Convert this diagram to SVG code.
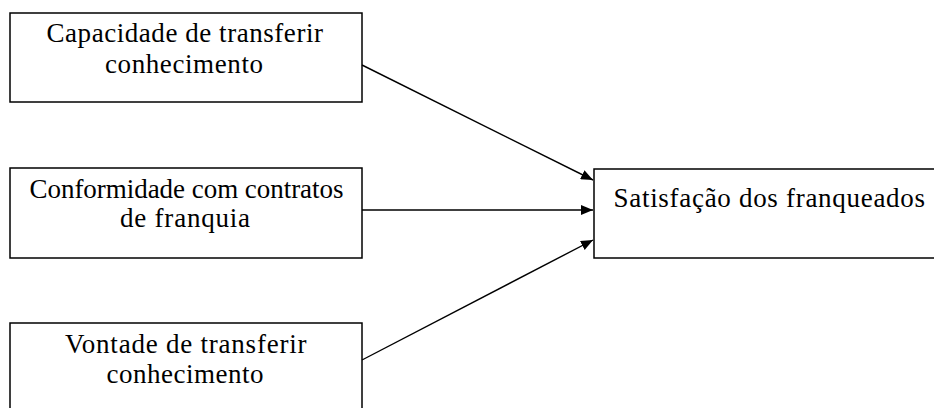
<svg xmlns="http://www.w3.org/2000/svg" width="934" height="408" viewBox="0 0 934 408">
<style>
.box{fill:#fff;stroke:#000;stroke-width:1.5}
.t{font-family:"Liberation Serif","Times New Roman",serif;font-size:27px;fill:#000}
.c{stroke:#000;stroke-width:1.4;fill:none;marker-end:url(#ah)}
</style>
<defs>
<marker id="ah" markerWidth="12" markerHeight="10" refX="12" refY="5" orient="auto" markerUnits="userSpaceOnUse">
<path d="M0,0 L12,5 L0,10 z" fill="#000"/>
</marker>
</defs>
<rect width="934" height="408" fill="#fff"/>
<g id="n1">
<rect class="box" x="10" y="13" width="352" height="89"/>
<text class="t" x="46.5" y="41.5" textLength="276.5" lengthAdjust="spacing">Capacidade de transferir</text>
<text class="t" x="105" y="73" textLength="158" lengthAdjust="spacing">conhecimento</text>
</g>
<g id="n2">
<rect class="box" x="10" y="168" width="352" height="90"/>
<text class="t" x="29.5" y="198" textLength="314" lengthAdjust="spacing">Conformidade com contratos</text>
<text class="t" x="120" y="227" textLength="130" lengthAdjust="spacing">de franquia</text>
</g>
<g id="n3">
<rect class="box" x="10" y="323" width="352" height="100"/>
<text class="t" x="65" y="353" textLength="241.5" lengthAdjust="spacing">Vontade de transferir</text>
<text class="t" x="106.5" y="383" textLength="157" lengthAdjust="spacing">conhecimento</text>
</g>
<g id="n4">
<rect class="box" x="594" y="169" width="350" height="89"/>
<text class="t" x="613.5" y="206.5" textLength="311.5" lengthAdjust="spacing">Satisfação dos franqueados</text>
</g>
<g id="connectors">
<line class="c" x1="362" y1="65" x2="593" y2="180"/>
<line class="c" x1="362" y1="210" x2="593" y2="210"/>
<line class="c" x1="362" y1="360" x2="593" y2="240"/>
</g>
</svg>
